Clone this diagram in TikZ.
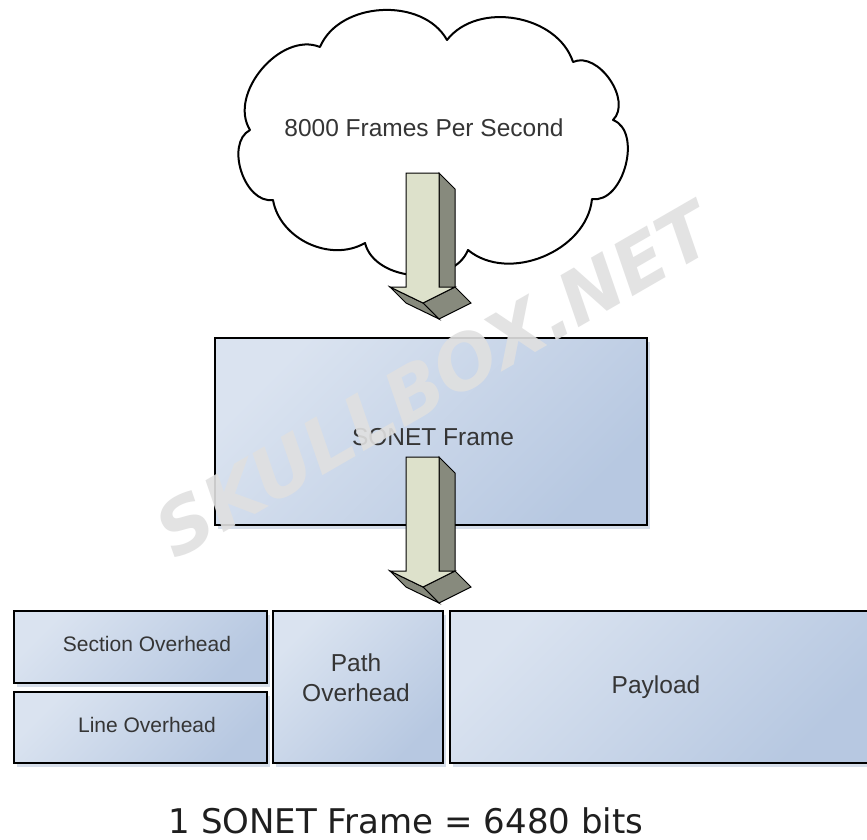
\documentclass[tikz,border=0pt]{standalone}
\usepackage{fontspec}
\setmainfont{Liberation Sans}
\newfontfamily\capfont{DejaVu Sans}
\newfontfamily\markfont{DejaVu Sans Bold Oblique}
\usetikzlibrary{shadows}
\definecolor{boxlt}{HTML}{DAE3F0}
\definecolor{boxdk}{HTML}{B7C8E1}
\definecolor{shadowc}{HTML}{D6DEEA}
\definecolor{arrfront}{HTML}{DDE1CB}
\definecolor{arrside}{HTML}{878A7D}
\definecolor{labelc}{HTML}{353535}
\definecolor{markc}{HTML}{E0E0E0}
\tikzset{
  blockbox/.style={draw=black, line width=2pt, top color=boxlt, bottom color=boxdk,
    shading angle=45, text=labelc, font=\fontsize{24.5}{30}\selectfont, align=center,
    inner sep=0pt, drop shadow={shadow xshift=3pt, shadow yshift=-4pt, fill=shadowc, opacity=1}},
  smalllabel/.style={font=\fontsize{21}{25}\selectfont},
  marktext/.style={rotate=30, font=\markfont\fontsize{74}{78}\selectfont, text=markc, opacity=0.9},
  facefront/.style={fill=arrfront, draw=black, line width=1pt, line join=miter},
  faceside/.style={fill=arrside, draw=black, line width=1pt, line join=miter},
  blockarrow/.pic={
    \path[faceside] (33,0) -- (49,16) -- (49,130) -- (33,114) -- cycle;
    \path[faceside] (17,130) -- (49,114) -- (65,130) -- (33,146) -- cycle;
    \path[faceside] (-16,114) -- (17,130) -- (33,146) -- (0,130) -- cycle;
    \path[facefront] (0,0) -- (33,0) -- (33,114) -- (49,114) -- (17,130)
      -- (-16,114) -- (0,114) -- cycle;
  }
}
\begin{document}
\begin{tikzpicture}[x=1pt, y=-1pt]
\useasboundingbox[fill=white] (0,0) rectangle (867,840);

% cloud outline, lobe by lobe between the valleys
\draw[line width=2pt, fill=white, line join=round]
  (320,47) to[bend left=64] (447,40)
           to[bend left=62] (573,62)
           to[bend left=80] (613,120)
           to[bend left=84] (592,199)
           to[bend left=62] (468,250)
           to[bend left=72] (365,243)
           to[bend left=55] (273,200)
           to[bend left=80] (250,130)
           to[bend left=72] cycle;
\node[text=labelc, font=\fontsize{24.5}{30}\selectfont] (rate) at (424,128) {8000 Frames Per Second};

% arrow from the cloud into the frame
\pic at (406,173) {blockarrow};

% the frame
\node[blockbox, minimum width=432pt, minimum height=187pt] (sonet) at (431,431.5) {};
\node[text=labelc, font=\fontsize{24.5}{30}\selectfont] (sonetlbl) at (433,437) {SONET Frame};

% arrow from the frame into its parts
\pic at (406,457) {blockarrow};

% parts of the frame
\node[blockbox, minimum width=253pt, minimum height=72pt] (soh) at (140.5,647) {};
\node[text=labelc, smalllabel] (sohlbl) at (147,644) {Section Overhead};
\node[blockbox, minimum width=253pt, minimum height=71pt] (loh) at (140.5,727.5) {};
\node[text=labelc, smalllabel] (lohlbl) at (147,725) {Line Overhead};
\node[blockbox, minimum width=170pt, minimum height=152pt] (poh) at (358,687) {};
\node[text=labelc, font=\fontsize{24.5}{30}\selectfont, align=center] (pohlbl) at (356,678) {Path\\Overhead};
\node[blockbox, minimum width=418pt, minimum height=152pt] (pay) at (659,687) {};
\node[text=labelc, font=\fontsize{24.5}{30}\selectfont] (paylbl) at (656,687) {Payload};

% caption
\node[anchor=base, inner sep=0pt, font=\capfont\fontsize{34}{40}\selectfont, text=black!88] (cap) at (406,833) {1 SONET Frame = 6480 bits};

% site mark
\node[marktext] (mark) at (434,380) {SKULLBOX.NET};
\end{tikzpicture}
\end{document}
